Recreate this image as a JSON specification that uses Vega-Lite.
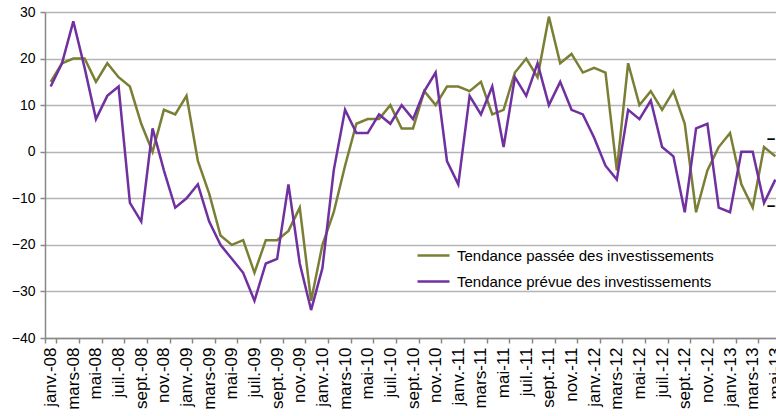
{
  "$schema": "https://vega.github.io/schema/vega-lite/v6.json",
  "width": 736,
  "height": 326,
  "autosize": {"type": "none"},
  "padding": {"left": 45, "top": 12, "right": 0, "bottom": 78},
  "background": "white",
  "config": {
    "view": {"stroke": null},
    "font": "Liberation Sans",
    "axis": {"labelFont": "Liberation Sans", "labelColor": "#000000"},
    "legend": {"labelFont": "Liberation Sans", "labelColor": "#000000"}
  },
  "data": {
    "values": [
      {"idx": 0, "mois": "janv.-08", "passee": 15, "prevue": 14},
      {"idx": 1, "mois": "févr.-08", "passee": 19, "prevue": 19},
      {"idx": 2, "mois": "mars-08", "passee": 20, "prevue": 28},
      {"idx": 3, "mois": "avr.-08", "passee": 20, "prevue": 18},
      {"idx": 4, "mois": "mai-08", "passee": 15, "prevue": 7},
      {"idx": 5, "mois": "juin-08", "passee": 19, "prevue": 12},
      {"idx": 6, "mois": "juil.-08", "passee": 16, "prevue": 14},
      {"idx": 7, "mois": "août-08", "passee": 14, "prevue": -11},
      {"idx": 8, "mois": "sept.-08", "passee": 6, "prevue": -15},
      {"idx": 9, "mois": "oct.-08", "passee": 0, "prevue": 5},
      {"idx": 10, "mois": "nov.-08", "passee": 9, "prevue": -4},
      {"idx": 11, "mois": "déc.-08", "passee": 8, "prevue": -12},
      {"idx": 12, "mois": "janv.-09", "passee": 12, "prevue": -10},
      {"idx": 13, "mois": "févr.-09", "passee": -2, "prevue": -7},
      {"idx": 14, "mois": "mars-09", "passee": -9, "prevue": -15},
      {"idx": 15, "mois": "avr.-09", "passee": -18, "prevue": -20},
      {"idx": 16, "mois": "mai-09", "passee": -20, "prevue": -23},
      {"idx": 17, "mois": "juin-09", "passee": -19, "prevue": -26},
      {"idx": 18, "mois": "juil.-09", "passee": -26, "prevue": -32},
      {"idx": 19, "mois": "août-09", "passee": -19, "prevue": -24},
      {"idx": 20, "mois": "sept.-09", "passee": -19, "prevue": -23},
      {"idx": 21, "mois": "oct.-09", "passee": -17, "prevue": -7},
      {"idx": 22, "mois": "nov.-09", "passee": -12, "prevue": -24},
      {"idx": 23, "mois": "déc.-09", "passee": -32, "prevue": -34},
      {"idx": 24, "mois": "janv.-10", "passee": -20, "prevue": -25},
      {"idx": 25, "mois": "févr.-10", "passee": -13, "prevue": -4},
      {"idx": 26, "mois": "mars-10", "passee": -3, "prevue": 9},
      {"idx": 27, "mois": "avr.-10", "passee": 6, "prevue": 4},
      {"idx": 28, "mois": "mai-10", "passee": 7, "prevue": 4},
      {"idx": 29, "mois": "juin-10", "passee": 7, "prevue": 8},
      {"idx": 30, "mois": "juil.-10", "passee": 10, "prevue": 6},
      {"idx": 31, "mois": "août-10", "passee": 5, "prevue": 10},
      {"idx": 32, "mois": "sept.-10", "passee": 5, "prevue": 7},
      {"idx": 33, "mois": "oct.-10", "passee": 13, "prevue": 13},
      {"idx": 34, "mois": "nov.-10", "passee": 10, "prevue": 17},
      {"idx": 35, "mois": "déc.-10", "passee": 14, "prevue": -2},
      {"idx": 36, "mois": "janv.-11", "passee": 14, "prevue": -7},
      {"idx": 37, "mois": "févr.-11", "passee": 13, "prevue": 12},
      {"idx": 38, "mois": "mars-11", "passee": 15, "prevue": 8},
      {"idx": 39, "mois": "avr.-11", "passee": 8, "prevue": 14},
      {"idx": 40, "mois": "mai-11", "passee": 9, "prevue": 1},
      {"idx": 41, "mois": "juin-11", "passee": 17, "prevue": 16},
      {"idx": 42, "mois": "juil.-11", "passee": 20, "prevue": 12},
      {"idx": 43, "mois": "août-11", "passee": 16, "prevue": 19},
      {"idx": 44, "mois": "sept.-11", "passee": 29, "prevue": 10},
      {"idx": 45, "mois": "oct.-11", "passee": 19, "prevue": 15},
      {"idx": 46, "mois": "nov.-11", "passee": 21, "prevue": 9},
      {"idx": 47, "mois": "déc.-11", "passee": 17, "prevue": 8},
      {"idx": 48, "mois": "janv.-12", "passee": 18, "prevue": 3},
      {"idx": 49, "mois": "févr.-12", "passee": 17, "prevue": -3},
      {"idx": 50, "mois": "mars-12", "passee": -4, "prevue": -6},
      {"idx": 51, "mois": "avr.-12", "passee": 19, "prevue": 9},
      {"idx": 52, "mois": "mai-12", "passee": 10, "prevue": 7},
      {"idx": 53, "mois": "juin-12", "passee": 13, "prevue": 11},
      {"idx": 54, "mois": "juil.-12", "passee": 9, "prevue": 1},
      {"idx": 55, "mois": "août-12", "passee": 13, "prevue": -1},
      {"idx": 56, "mois": "sept.-12", "passee": 6, "prevue": -13},
      {"idx": 57, "mois": "oct.-12", "passee": -13, "prevue": 5},
      {"idx": 58, "mois": "nov.-12", "passee": -4, "prevue": 6},
      {"idx": 59, "mois": "déc.-12", "passee": 1, "prevue": -12},
      {"idx": 60, "mois": "janv.-13", "passee": 4, "prevue": -13},
      {"idx": 61, "mois": "févr.-13", "passee": -7, "prevue": 0},
      {"idx": 62, "mois": "mars-13", "passee": -12, "prevue": 0},
      {"idx": 63, "mois": "avr.-13", "passee": 1, "prevue": -11},
      {"idx": 64, "mois": "mai-13", "passee": -1, "prevue": -6}
    ]
  },
  "transform": [{"fold": ["passee", "prevue"], "as": ["serie", "valeur"]}],
  "encoding": {
    "x": {
      "field": "mois",
      "type": "ordinal",
      "sort": null,
      "scale": {"type": "band", "paddingInner": 0, "paddingOuter": 0},
      "axis": {
        "title": null,
        "values": ["janv.-08", "mars-08", "mai-08", "juil.-08", "sept.-08", "nov.-08",
                   "janv.-09", "mars-09", "mai-09", "juil.-09", "sept.-09", "nov.-09",
                   "janv.-10", "mars-10", "mai-10", "juil.-10", "sept.-10", "nov.-10",
                   "janv.-11", "mars-11", "mai-11", "juil.-11", "sept.-11", "nov.-11",
                   "janv.-12", "mars-12", "mai-12", "juil.-12", "sept.-12", "nov.-12",
                   "janv.-13", "mars-13", "mai-13"],
        "tickBand": "extent",
        "labelAngle": -90,
        "labelFontSize": 17,
        "labelPadding": 4,
        "labelOverlap": false,
        "labelBound": false,
        "grid": false,
        "tickSize": 5,
        "tickColor": "#898989",
        "tickWidth": 1.5,
        "domainColor": "#898989",
        "domainWidth": 1.5
      }
    },
    "y": {
      "field": "valeur",
      "type": "quantitative",
      "scale": {"domain": [-40, 30], "nice": false},
      "axis": {
        "title": null,
        "values": [-40, -30, -20, -10, 0, 10, 20, 30],
        "grid": true,
        "gridColor": "#b5b5b5",
        "gridWidth": 1.5,
        "domainColor": "#898989",
        "domainWidth": 1.5,
        "tickColor": "#898989",
        "tickWidth": 1.5,
        "tickSize": 5,
        "labelFontSize": 14,
        "labelPadding": 5
      }
    }
  },
  "layer": [
    {
      "mark": {"type": "line", "strokeWidth": 2.5},
      "encoding": {
        "color": {
          "field": "serie",
          "type": "nominal",
          "scale": {"domain": ["passee", "prevue"], "range": ["#7a7f35", "#7030a0"]},
          "legend": {
            "orient": "none",
            "legendX": 371,
            "legendY": 226,
            "title": null,
            "padding": 0,
            "symbolType": "stroke",
            "symbolSize": 1024,
            "symbolStrokeWidth": 2.5,
            "labelFontSize": 15,
            "labelOffset": 6,
            "labelLimit": 500,
            "rowPadding": -12,
            "labelExpr": "datum.value == 'passee' ? 'Tendance passée des investissements' : 'Tendance prévue des investissements'"
          }
        },
        "order": {"field": "idx", "type": "quantitative"}
      }
    },
    {
      "transform": [{"filter": "datum.idx == 64 && datum.serie == 'passee'"}],
      "mark": {"type": "text", "dy": -17, "fontSize": 15, "fontWeight": "bold", "color": "#000000"},
      "encoding": {"text": {"field": "valeur", "type": "quantitative"}}
    },
    {
      "transform": [{"filter": "datum.idx == 64 && datum.serie == 'prevue'"}],
      "mark": {"type": "text", "dy": 26, "fontSize": 15, "fontWeight": "bold", "color": "#000000"},
      "encoding": {"text": {"field": "valeur", "type": "quantitative"}}
    }
  ]
}
